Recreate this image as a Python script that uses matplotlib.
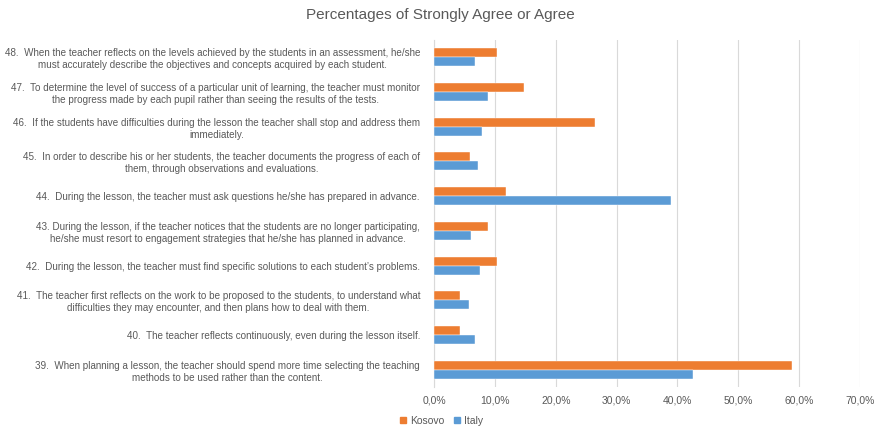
import numpy as np
import matplotlib
matplotlib.use("Agg")
import matplotlib.pyplot as plt
from matplotlib.ticker import FuncFormatter, MultipleLocator
from matplotlib.lines import Line2D

plt.rcParams['font.family'] = ['Liberation Sans', 'DejaVu Sans']

# items listed bottom -> top
questions = [
    "39.  When planning a lesson, the teacher should spend more time selecting the teaching\nmethods to be used rather than the content.",
    "40.  The teacher reflects continuously, even during the lesson itself.",
    "41.  The teacher first reflects on the work to be proposed to the students, to understand what\ndifficulties they may encounter, and then plans how to deal with them.",
    "42.  During the lesson, the teacher must find specific solutions to each student\u2019s problems.",
    "43. During the lesson, if the teacher notices that the students are no longer participating,\nhe/she must resort to engagement strategies that he/she has planned in advance.",
    "44.  During the lesson, the teacher must ask questions he/she has prepared in advance.",
    "45.  In order to describe his or her students, the teacher documents the progress of each of\nthem, through observations and evaluations.",
    "46.  If the students have difficulties during the lesson the teacher shall stop and address them\nimmediately.",
    "47.  To determine the level of success of a particular unit of learning, the teacher must monitor\nthe progress made by each pupil rather than seeing the results of the tests.",
    "48.  When the teacher reflects on the levels achieved by the students in an assessment, he/she\nmust accurately describe the objectives and concepts acquired by each student.",
]
kosovo = [58.8, 4.3, 4.3, 10.3, 8.8, 11.8, 5.9, 26.5, 14.8, 10.3]
italy = [42.5, 6.8, 5.7, 7.5, 6.1, 38.9, 7.2, 7.9, 8.9, 6.8]

c_kosovo = "#ED7D31"
c_italy = "#5B9BD5"
txt = "#595959"

fig = plt.figure(figsize=(8.8, 4.3), dpi=100)
ax = fig.add_axes([434 / 880, 1 - 387 / 430, (860 - 434) / 880, (387 - 40) / 430])

y = np.arange(len(questions))
h = 0.26
ax.barh(y + h / 2, kosovo, height=h, color=c_kosovo, edgecolor="white", linewidth=0.3, zorder=3)
ax.barh(y - h / 2, italy, height=h, color=c_italy, edgecolor="white", linewidth=0.3, zorder=3)

ax.set_xlim(0, 70)
ax.set_ylim(-0.5, len(questions) - 0.5)
ax.xaxis.set_major_locator(MultipleLocator(10))
ax.xaxis.set_major_formatter(FuncFormatter(lambda v, p: f"{v:.1f}%".replace(".", ",")))
ax.grid(True, axis="x", color="#D9D9D9", linewidth=0.8, zorder=0)

ax.set_yticks(y)
ax.set_yticklabels(questions, fontsize=7.1, color=txt, multialignment="center", linespacing=1.25)
ax.tick_params(axis="y", length=0, pad=10)
ax.tick_params(axis="x", length=0, pad=6, labelsize=7.5, labelcolor=txt)

for s in ["top", "right", "bottom"]:
    ax.spines[s].set_visible(False)
ax.spines["left"].set_color("#D9D9D9")

fig.text(0.5, 1 - 15 / 430, "Percentages of Strongly Agree or Agree", ha="center", va="center",
         fontsize=11, color=txt)

handles = [Line2D([], [], marker="s", linestyle="none", color=c_kosovo, markersize=5),
           Line2D([], [], marker="s", linestyle="none", color=c_italy, markersize=5)]
fig.legend(handles, ["Kosovo", "Italy"], loc="center", bbox_to_anchor=(440 / 880, 1 - 421 / 430),
           ncol=2, frameon=False, fontsize=7.5, labelcolor=txt, handletextpad=0.1,
           columnspacing=0.6, handlelength=1.2)

fig.savefig("out.png", dpi=100)
